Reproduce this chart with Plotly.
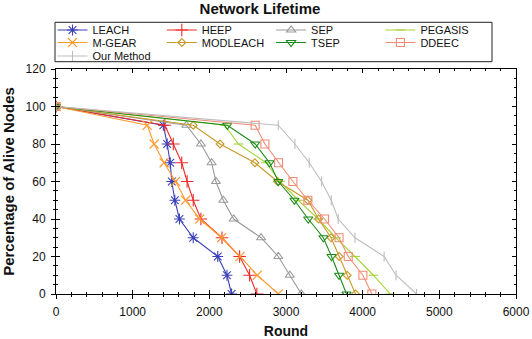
import plotly.graph_objects as go

# ---- data ----
alive_pct = [100, 90, 80, 70, 60, 50, 40, 30, 20, 10, 0]

leach_rounds = [0, 1400, 1450, 1490, 1510, 1550, 1610, 1790, 2110, 2230, 2290]
heep_rounds = [0, 1420, 1530, 1640, 1710, 1790, 1890, 2165, 2395, 2525, 2620]
sep_rounds = [0, 1700, 1890, 2030, 2086, 2182, 2318, 2675, 2900, 3050, 3200]
pegasis_rounds = [0, 2200, 2380, 2740, 2920, 3160, 3420, 3650, 3900, 4140, 4360]
mgear_rounds = [0, 1190, 1280, 1410, 1560, 1690, 1875, 2160, 2400, 2625, 2900]
modleach_rounds = [0, 1790, 2140, 2594, 2890, 3285, 3425, 3588, 3694, 3798, 3907]
tsep_rounds = [0, 2234, 2598, 2785, 2900, 3110, 3290, 3488, 3594, 3692, 3790]
ddeec_rounds = [0, 2598, 2725, 2903, 3090, 3285, 3503, 3692, 3812, 4003, 4120]
ours_rounds = [0, 2899, 3116, 3303, 3464, 3590, 3681, 3900, 4280, 4435, 4703]

series_names = ["LEACH", "HEEP", "SEP", "PEGASIS",
                "M-GEAR", "MODLEACH", "TSEP", "DDEEC", "Our Method"]
series_rounds = [leach_rounds, heep_rounds, sep_rounds, pegasis_rounds,
                 mgear_rounds, modleach_rounds, tsep_rounds, ddeec_rounds, ours_rounds]
series_colors = ["#3a40b8", "#ee2a2a", "#9a9a9a", "#a6d43a",
                 "#ff9a2e", "#c89a2a", "#1a8a1a", "#f28b74", "#bdbdbd"]
series_symbols = ["asterisk-open", "cross-thin-open", "triangle-up-open", "line-ew-open",
                  "x-thin-open", "diamond-open", "triangle-down-open", "square-open", "line-ns-open"]
series_sizes = [9, 9, 8, 7, 9, 6, 8, 8, 7]
series_legend = ["legend", "legend", "legend", "legend",
                 "legend2", "legend2", "legend2", "legend2", "legend3"]

x_range = [0, 6000]
y_range = [0, 120]

fig = go.Figure()

for name, xs, col, sym, sz, lg in zip(series_names, series_rounds, series_colors,
                                      series_symbols, series_sizes, series_legend):
    fig.add_trace(go.Scatter(
        x=xs, y=alive_pct, name=name, mode="lines+markers",
        line=dict(color=col, width=1.1),
        marker=dict(symbol=sym, size=sz, color=col, line=dict(color=col, width=1.1)),
        legend=lg,
    ))

# empty trace to activate overlay axes (for ticks crossing the axis line)
fig.add_trace(go.Scatter(x=[], y=[], xaxis="x2", yaxis="y2",
                         showlegend=False, hoverinfo="skip"))

W, H = 532, 339
L, R, T, B = 56, 16, 69, 45
PW, PH = W - L - R, H - T - B


def px_x(px):
    return (px - L) / PW


def px_y(py):
    return (H - B - py) / PH


FONT = "Liberation Sans, Arial, sans-serif"
tickfont = dict(family=FONT, size=12, color="#111")
common_x = dict(range=x_range, dtick=1000, tick0=0, showgrid=False, zeroline=False,
                linecolor="black", linewidth=1, automargin=False)
common_y = dict(range=y_range, dtick=20, tick0=0, showgrid=False, zeroline=False,
                linecolor="black", linewidth=1, automargin=False)

legend_common = dict(orientation="h", font=dict(family=FONT, size=11, color="#111"),
                     bgcolor="rgba(0,0,0,0)", borderwidth=0, entrywidth=64.3,
                     entrywidthmode="pixels", xanchor="left", yanchor="top",
                     itemclick=False, itemdoubleclick=False, tracegroupgap=0)

fig.update_layout(
    width=W, height=H,
    margin=dict(l=L, r=R, t=T, b=B, autoexpand=False),
    paper_bgcolor="white", plot_bgcolor="white",
    title=dict(text="<b>Network Lifetime</b>", x=260 / W, xref="container", xanchor="center",
               y=1 - 9 / H, yref="container", yanchor="middle",
               font=dict(family=FONT, size=15, color="#111")),
    xaxis=dict(**common_x, ticks="outside", ticklen=4, tickwidth=1, tickcolor="black",
               minor=dict(dtick=200, ticks="outside", ticklen=2, tickcolor="black"),
               tickfont=tickfont, mirror=False, ticklabelstandoff=3,
               title=dict(text="<b>Round</b>", standoff=14,
                          font=dict(family=FONT, size=14, color="#111"))),
    yaxis=dict(**common_y, ticks="outside", ticklen=4, tickwidth=1, tickcolor="black",
               minor=dict(dtick=5, ticks="outside", ticklen=2, tickcolor="black"),
               tickfont=tickfont, mirror=False, ticklabelstandoff=3,
               title=dict(text="<b>Percentage of Alive Nodes</b>", standoff=11,
                          font=dict(family=FONT, size=15, color="#111"))),
    xaxis2=dict(**common_x, overlaying="x", side="bottom", anchor="y2", ticks="inside",
                ticklen=4, tickcolor="black", showticklabels=False, showline=True,
                mirror="ticks",
                minor=dict(dtick=200, ticks="inside", ticklen=2, tickcolor="black")),
    yaxis2=dict(**common_y, overlaying="y", side="left", anchor="x2", ticks="inside",
                ticklen=4, tickcolor="black", showticklabels=False, showline=True,
                mirror="ticks",
                minor=dict(dtick=5, ticks="inside", ticklen=2, tickcolor="black")),
    legend=dict(**legend_common, x=px_x(52.5), y=px_y(15.5)),
    legend2=dict(**legend_common, x=px_x(52.5), y=px_y(28)),
    legend3=dict(**legend_common, x=px_x(52.5), y=px_y(41.5)),
    shapes=[dict(type="rect", xref="paper", yref="paper",
                 x0=px_x(55), x1=px_x(492), y0=px_y(61.7), y1=px_y(22.3),
                 line=dict(color="#222", width=1), fillcolor="rgba(0,0,0,0)", layer="above")],
    showlegend=True,
)

fig.write_html("out.html")
